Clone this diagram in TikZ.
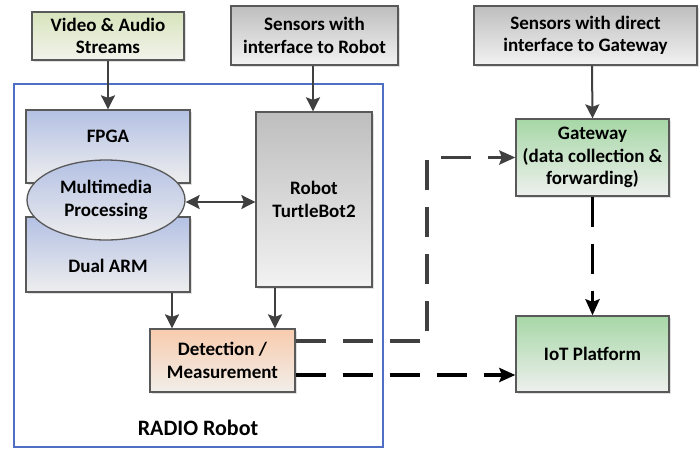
\documentclass[tikz,border=0pt]{standalone}
\usepackage{fontspec}
\setmainfont{Carlito}
\usetikzlibrary{arrows.meta,shadows,shapes.geometric}

\definecolor{edgegray}{HTML}{595959}
\definecolor{arrowgray}{HTML}{404040}
\definecolor{framblue}{HTML}{4F6FC4}
\definecolor{olivetop}{HTML}{D7E4BC}
\definecolor{olivebot}{HTML}{F3F3EC}
\definecolor{graytop}{HTML}{BEBEBE}
\definecolor{graybot}{HTML}{F2F2F2}
\definecolor{bluetop}{HTML}{B4C1E4}
\definecolor{bluebot}{HTML}{EEEEEE}
\definecolor{peachtop}{HTML}{F8CBAD}
\definecolor{peachbot}{HTML}{F1EEEA}
\definecolor{greentop}{HTML}{A6D7A6}
\definecolor{greenbot}{HTML}{EEF0EE}

\tikzset{
  x=1pt, y=-1pt,
  every node/.style={font=\fontsize{19}{22.5}\selectfont\bfseries, text=black},
  block/.style={draw=edgegray, line width=1.3pt, rectangle, inner sep=0pt,
    drop shadow={shadow xshift=1.5pt, shadow yshift=-1.5pt, fill=black, opacity=0.12}},
  olive/.style={block, top color=olivetop, bottom color=olivebot},
  grayb/.style={block, top color=graytop, bottom color=graybot},
  blueb/.style={block, top color=bluetop, bottom color=bluebot},
  peach/.style={block, top color=peachtop, bottom color=peachbot},
  green/.style={block, top color=greentop, bottom color=greenbot},
  caption/.style={align=center, inner sep=0pt},
  tipsolid/.tip={Stealth[length=14pt,width=14pt,inset=2.5pt]},
  solidarrow/.style={draw=arrowgray, line width=2pt, -tipsolid},
  dashline/.style={line width=3.5pt, dash pattern=on 30pt off 17pt},
  dasharrow/.style={dashline, -{Stealth[length=16pt,width=14pt,inset=2.5pt]}},
}

\begin{document}
\begin{tikzpicture}
\useasboundingbox (0,0) rectangle (699,448);

% outer robot frame
\draw[framblue, line width=2pt] (14,84) rectangle (383,447);
\node[caption, font=\fontsize{22}{26}\selectfont\bfseries] (radio) at (198,428) {RADIO Robot};

% input sources
\node[olive, minimum width=152pt, minimum height=48pt, align=center]
  (video) at (108,36) {Video \& Audio\\Streams};
\node[grayb, minimum width=167pt, minimum height=59pt, align=center]
  (sensR) at (314.5,35.5) {Sensors with\\interface to Robot};
\node[grayb, minimum width=223pt, minimum height=59pt, align=center]
  (sensG) at (585.5,35.5) {Sensors with direct\\interface to Gateway};

% processing boards
\node[blueb, minimum width=164pt, minimum height=73pt] (fpga) at (108,146.5) {};
\node[caption] (fpgaT) at (108,136) {FPGA};
\node[blueb, minimum width=164pt, minimum height=75pt] (arm) at (108,254.5) {};
\node[caption] (armT) at (108,266) {Dual ARM};
\node[draw=edgegray, line width=1.3pt, ellipse, top color=bluetop, bottom color=bluebot,
  minimum width=158pt, minimum height=80pt, inner sep=0pt, align=center]
  (mm) at (106,200) {Multimedia\\Processing};

\node[grayb, minimum width=116pt, minimum height=175pt, align=center]
  (robot) at (314,199.5) {Robot\\TurtleBot2};

\node[peach, minimum width=145pt, minimum height=63pt, align=center]
  (det) at (222.5,360.5) {Detection /\\Measurement};

% gateway side
\node[green, minimum width=153pt, minimum height=77pt, align=center]
  (gw) at (592.5,157.5) {Gateway\\(data collection \&\\forwarding)};
\node[green, minimum width=153pt, minimum height=76pt]
  (iot) at (592.5,354) {IoT Platform};

% solid connectors
\draw[solidarrow] (video.south) -- (fpga.north);
\draw[solidarrow] ([xshift=-1.5pt]sensR.south) -- ([xshift=-1pt]robot.north);
\draw[solidarrow] ([xshift=6.5pt]sensG.south) -- (gw.north);
\draw[solidarrow, tipsolid-tipsolid]
  ([yshift=-2pt]mm.east) -- ([yshift=-2pt]mm.east -| robot.west);
\draw[solidarrow] ([xshift=64pt]arm.south) -- ([xshift=64pt]arm.south |- det.north);
\draw[solidarrow] ([xshift=-39pt]robot.south) -- ([xshift=-39pt]robot.south |- det.north);

% dashed data paths
\coordinate (jog) at (427,0);
\draw[dasharrow, draw=arrowgray]
  ([yshift=19.5pt]det.east) -| (jog |- gw.west) -- (gw.west);
\draw[dasharrow, draw=black]
  ([yshift=-14.5pt]det.east) -- ([yshift=-14.5pt]det.east -| iot.west);
\draw[dasharrow, draw=black] (gw.south) -- (iot.north);
\end{tikzpicture}
\end{document}
